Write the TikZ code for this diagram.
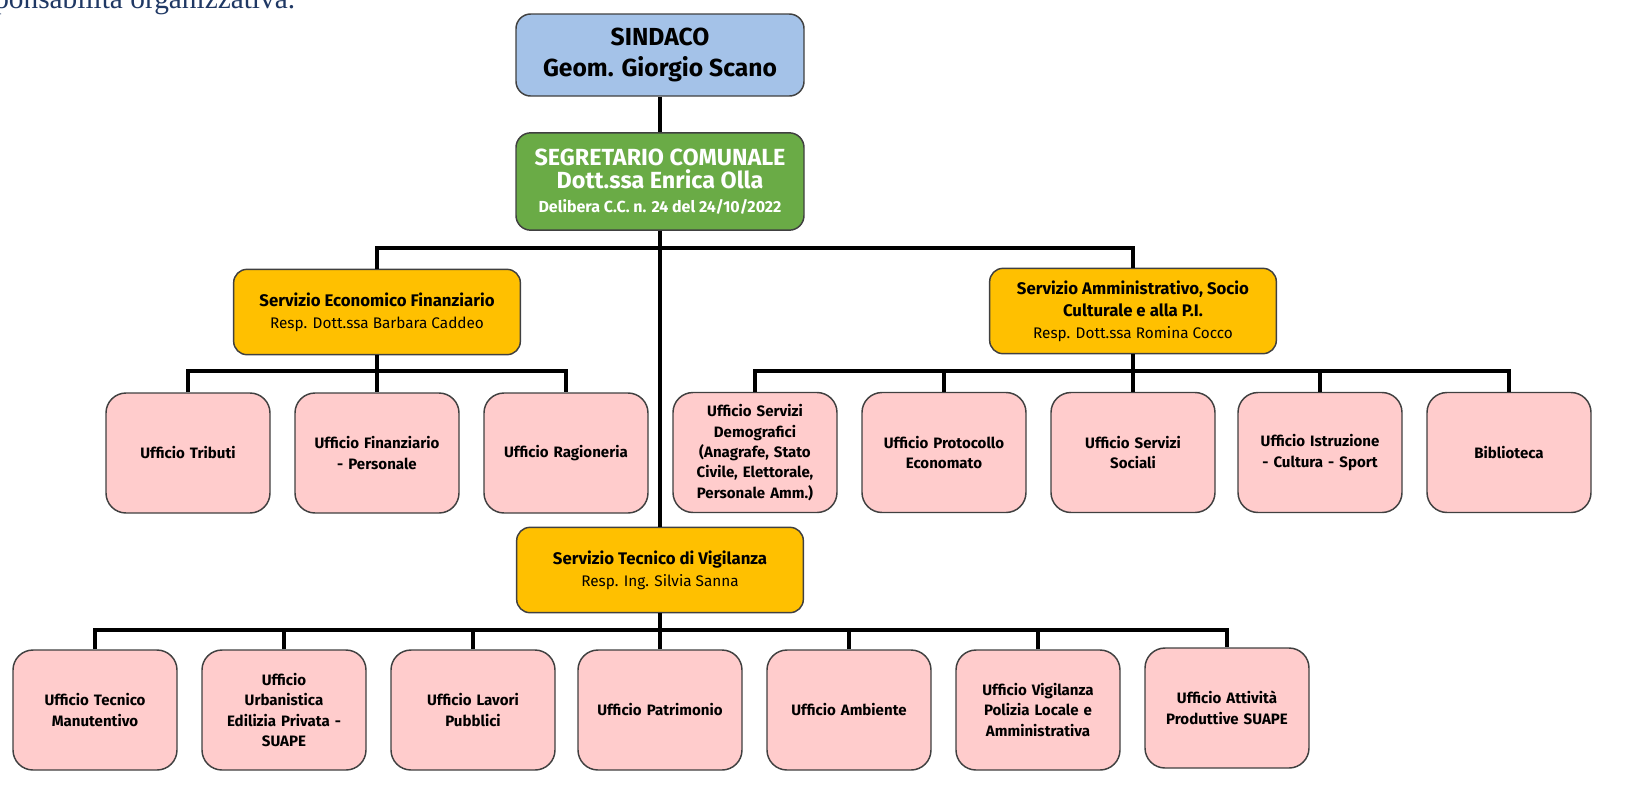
\documentclass[tikz,border=0pt]{standalone}
\usepackage{fontspec}
\setmainfont{Fira Sans}
\newfontfamily\topserif{Liberation Serif}
\definecolor{bluebox}{HTML}{A4C2E8}
\definecolor{greenbox}{HTML}{6AAB46}
\definecolor{orangebox}{HTML}{FFC000}
\definecolor{pinkbox}{HTML}{FFCCCC}
\definecolor{boxline}{HTML}{404040}
\definecolor{topblue}{HTML}{1F3864}
\tikzset{
  basebox/.style={draw=boxline, line width=1.1pt, align=center, inner sep=2pt},
  headbox/.style={basebox, rounded corners=11pt, minimum width=216pt, font=\bfseries\fontsize{18.5}{23}\selectfont},
  servbox/.style={basebox, rounded corners=10pt, fill=orangebox, minimum width=215pt, minimum height=64pt, font=\fontsize{11.5}{16.5}\selectfont},
  servtitle/.style={font=\bfseries\fontsize{12.6}{16.5}\selectfont},
  uffbox/.style={basebox, rounded corners=15pt, fill=pinkbox, minimum width=121pt, minimum height=90pt, text width=119pt, font=\bfseries\fontsize{11.3}{15.3}\selectfont},
  conn/.style={line width=2.3pt, black}
}
\begin{document}
\begin{tikzpicture}[x=0.75pt,y=-0.75pt]
\useasboundingbox (0,0) rectangle (1625,794);
\node[anchor=base west, text=topblue, font=\topserif\fontsize{22}{24}\selectfont, inner sep=0pt] (toptext) at (-6,8) {ponsabilità organizzativa.};
% level 0-1
\node[headbox, fill=bluebox, minimum height=61.5pt] (sind) at (660,55) {SINDACO\\Geom. Giorgio Scano};
\node[headbox, fill=greenbox, text=white, minimum height=73pt, font=\bfseries\fontsize{17.5}{17.5}\selectfont] (segr) at (660,181.5) {SEGRETARIO COMUNALE\\Dott.ssa Enrica Olla\\{\fontsize{12}{17}\selectfont Delibera C.C. n. 24 del 24/10/2022}};
% services
\node[servbox] (econ) at (377,312) {{\bfseries\fontsize{12.6}{16.5}\selectfont Servizio Economico Finanziario}\\Resp. Dott.ssa Barbara Caddeo};
\node[servbox] (amm) at (1133,311) {{\bfseries\fontsize{12.6}{16.5}\selectfont Servizio Amministrativo, Socio}\\{\bfseries\fontsize{12.6}{16.5}\selectfont Culturale e alla P.I.}\\Resp. Dott.ssa Romina Cocco};
\node[servbox] (tec) at (660,570) {{\bfseries\fontsize{12.6}{16.5}\selectfont Servizio Tecnico di Vigilanza}\\Resp. Ing. Silvia Sanna};
% offices left
\node[uffbox] (trib) at (188,453) {Ufficio Tributi};
\node[uffbox] (fin) at (377,453) {Ufficio Finanziario\\- Personale};
\node[uffbox] (rag) at (566,453) {Ufficio Ragioneria};
% offices right
\node[uffbox] (demo) at (755,452.5) {Ufficio Servizi\\Demografici\\(Anagrafe, Stato\\Civile, Elettorale,\\Personale Amm.)};
\node[uffbox] (prot) at (944,452.5) {Ufficio Protocollo\\Economato};
\node[uffbox] (soc) at (1133,452.5) {Ufficio Servizi\\Sociali};
\node[uffbox] (istr) at (1320,452.5) {Ufficio Istruzione\\- Cultura - Sport};
\node[uffbox] (bib) at (1509,452.5) {Biblioteca};
% offices bottom
\node[uffbox] (tecm) at (95,710) {Ufficio Tecnico\\Manutentivo};
\node[uffbox] (urb) at (284,710) {Ufficio\\Urbanistica\\Edilizia Privata -\\SUAPE};
\node[uffbox] (lav) at (473,710) {Ufficio Lavori\\Pubblici};
\node[uffbox] (pat) at (660,710) {Ufficio Patrimonio};
\node[uffbox] (amb) at (849,710) {Ufficio Ambiente};
\node[uffbox] (vig) at (1038,710) {Ufficio Vigilanza\\Polizia Locale e\\Amministrativa};
\node[uffbox] (att) at (1227,708) {Ufficio Attività\\Produttive SUAPE};
% bars
\coordinate (bar1) at (660,248);
\coordinate (bar2) at (377,371);
\coordinate (bar3) at (1133,371);
\coordinate (bar4) at (660,630);
% connectors
\draw[conn] (sind.south) -- (segr.north);
\draw[conn] (segr.south) -- (tec.north);
\draw[conn] (econ.north) -- (econ.north |- bar1) -- (amm.north |- bar1) -- (amm.north);
\draw[conn] (econ.south) -- (fin.north);
\draw[conn] (trib.north) -- (trib.north |- bar2) -- (rag.north |- bar2) -- (rag.north);
\draw[conn] (amm.south) -- (soc.north);
\draw[conn] (demo.north) -- (demo.north |- bar3) -- (bib.north |- bar3) -- (bib.north);
\draw[conn] (prot.north) -- (prot.north |- bar3);
\draw[conn] (istr.north) -- (istr.north |- bar3);
\draw[conn] (tecm.north) -- (tecm.north |- bar4) -- (att.north |- bar4) -- (att.north);
\draw[conn] (tec.south) -- (pat.north);
\foreach \b in {urb,lav,amb,vig} \draw[conn] (\b.north) -- (\b.north |- bar4);
\end{tikzpicture}
\end{document}
